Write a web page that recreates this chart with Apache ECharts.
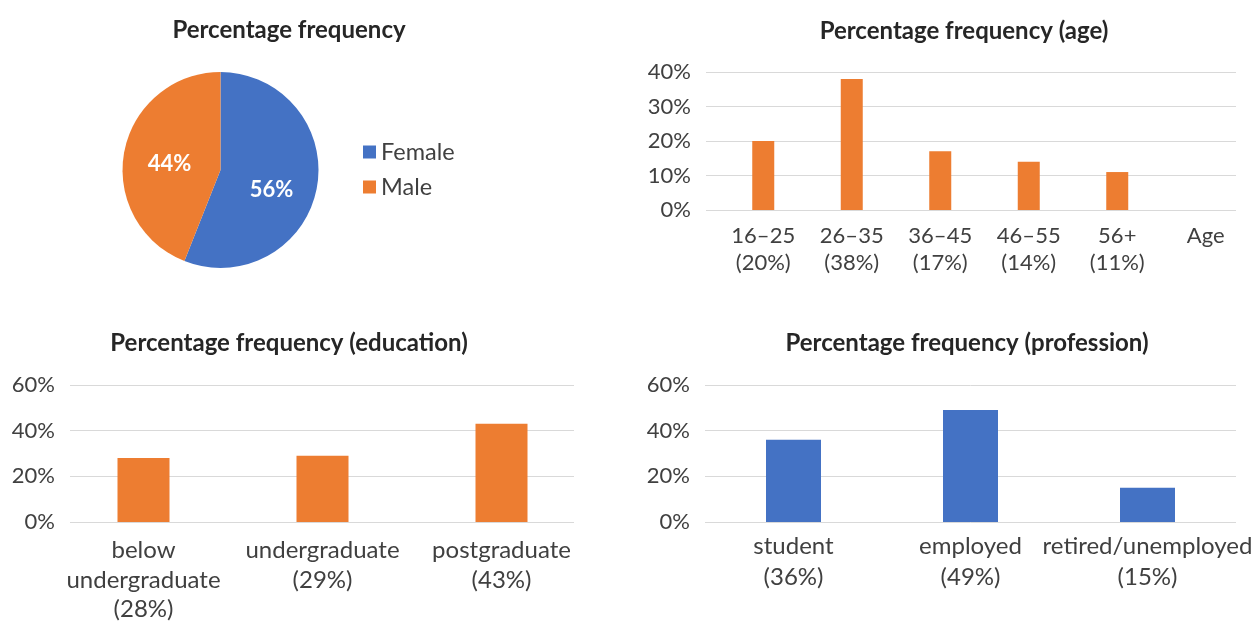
<!DOCTYPE html>
<html>
<head>
    <meta charset="UTF-8"/>
    <title>Percentage frequency</title>
    <style>
        html, body { margin: 0; padding: 0; background: #fff; }
        #main { width: 1260px; height: 623px; }
    </style>
</head>
<body>
<div id="main"></div>
<script src="https://cdn.jsdelivr.net/npm/echarts@6/dist/echarts.min.js"></script>
<script>
    // data
    const genderNames = ['Female', 'Male'];
    const genderValues = [56, 44];
    const ageCategories = ['16–25', '26–35', '36–45', '46–55', '56+', 'Age'];
    const ageValues = [20, 38, 17, 14, 11, null];
    const eduCategories = ['below undergraduate', 'undergraduate', 'postgraduate'];
    const eduValues = [28, 29, 43];
    const profCategories = ['student', 'employed', 'retired/unemployed'];
    const profValues = [36, 49, 15];
    const ageTicks = [0, 40, 10];
    const pctTicks = [0, 60, 20];

    const BLUE = '#4472C4', ORANGE = '#ED7D31';
    const FONT = 'Lato';
    const TXT = '#404040';

    // tick label: name on top, the value in brackets below
    function catLabel(names, values, splitWords) {
        return function (name, idx) {
            let n = splitWords ? name.replace(' ', '\n') : name;
            const v = values[idx];
            return v == null ? n : n + '\n(' + v + '%)';
        };
    }

    function title(text, x, y) {
        return {
            text: text, left: x, top: y, textAlign: 'center',
            textStyle: {fontFamily: FONT, fontSize: 24, fontWeight: 'bold', color: '#262626'}
        };
    }

    function valAxis(grid, t, show) {
        return {
            type: 'value', gridIndex: grid, min: t[0], max: t[1], interval: t[2],
            show: show,
            axisLabel: {formatter: '{value}%', fontFamily: FONT, fontSize: 22, color: TXT, margin: 15},
            axisLine: {show: false}, axisTick: {show: false},
            splitLine: {show: show, lineStyle: {color: '#d9d9d9', width: 1}}
        };
    }

    function catAxis(grid, data, show, fmt, size, lh, margin) {
        return {
            type: 'category', gridIndex: grid, data: data, show: show,
            axisLine: {show: false}, axisTick: {show: false},
            axisLabel: {
                interval: 0, formatter: fmt, fontFamily: FONT, fontSize: size,
                color: TXT, lineHeight: lh, margin: margin
            }
        };
    }

    // fixed plot rectangles, labels may run to the page edge
    function grid(left, width, top, height) {
        return {left: left, width: width, top: top, height: height, outerBoundsMode: 'none', containLabel: false};
    }

    const chart = echarts.init(document.getElementById('main'));
    const option = {
        animation: false,
        backgroundColor: '#fff',
        title: [
            title('Percentage frequency', 284, 13),
            title('Percentage frequency (age)', 959, 14),
            title('Percentage frequency (education)', 284, 326),
            title('Percentage frequency (profession)', 962, 326)
        ],
        legend: {
            data: genderNames, orient: 'vertical', left: 358, top: 135,
            icon: 'rect', itemWidth: 13, itemHeight: 13, itemGap: 11,
            textStyle: {fontFamily: FONT, fontSize: 23.5, color: TXT, lineHeight: 24}
        },
        grid: [
            grid(706, 530, 72, 138),   // age gridlines
            grid(719, 531, 72, 138),   // age bars
            grid(70, 504, 385, 137),   // education gridlines
            grid(54, 537, 385, 137),   // education bars
            grid(705, 531, 385, 137)   // profession
        ],
        xAxis: [
            catAxis(0, ageCategories, false),
            catAxis(1, ageCategories, true, catLabel(ageCategories, ageValues, false), 22, 27, 12),
            catAxis(2, eduCategories, false),
            catAxis(3, eduCategories, true, catLabel(eduCategories, eduValues, true), 24, 29.5, 14),
            catAxis(4, profCategories, true, catLabel(profCategories, profValues, false), 24, 31, 9)
        ],
        yAxis: [
            valAxis(0, ageTicks, true),
            valAxis(1, ageTicks, false),
            valAxis(2, pctTicks, true),
            valAxis(3, pctTicks, false),
            valAxis(4, pctTicks, true)
        ],
        series: [
            {
                type: 'bar', xAxisIndex: 1, yAxisIndex: 1, data: ageValues,
                barWidth: 22, itemStyle: {color: ORANGE}, silent: true
            },
            {
                type: 'bar', xAxisIndex: 3, yAxisIndex: 3, data: eduValues,
                barWidth: 52, itemStyle: {color: ORANGE}, silent: true
            },
            {
                type: 'bar', xAxisIndex: 4, yAxisIndex: 4, data: profValues,
                barWidth: 55, itemStyle: {color: BLUE}, silent: true
            },
            {
                type: 'pie', center: [220.5, 170], radius: 98,
                startAngle: 90, clockwise: true, silent: true,
                label: {
                    position: 'inside', color: '#fff',
                    fontFamily: FONT, fontSize: 22, fontWeight: 'bold'
                },
                labelLine: {show: false},
                data: genderNames.map(function (n, i) {
                    // empty first line pushes the label down a little, as in the picture
                    const gap = i === 0 ? 20 : 8;
                    return {
                        name: n, value: genderValues[i],
                        itemStyle: {color: i === 0 ? BLUE : ORANGE},
                        label: {formatter: '{g|}\n{c}%', rich: {g: {lineHeight: gap}}}
                    };
                })
            }
        ]
    };
    chart.setOption(option);
</script>
</body>
</html>
